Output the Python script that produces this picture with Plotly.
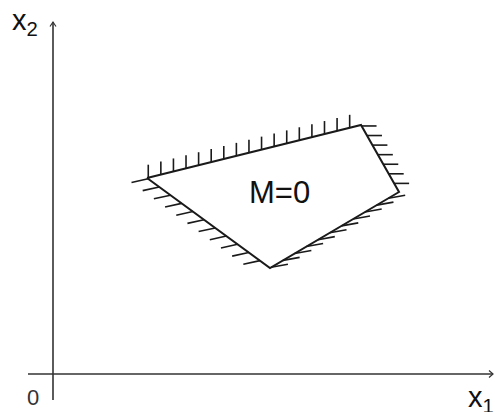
import numpy as np
import plotly.graph_objects as go

# Vertices of the feasible polygon (x1, x2), listed clockwise from the left corner
vertex_x1 = [1.88, 6.16, 6.92, 4.34]
vertex_x2 = [3.92, 4.98, 3.64, 2.12]

# Hatch settings per edge: (start vertex, end vertex, number of hatches, direction, length)
edges = [
    (0, 1, 17, (0.0, 1.0), 0.26),     # top edge, hatches point up
    (1, 2, 7, (1.0, 0.0), 0.30),      # right edge, hatches point right
    (3, 2, 11, (1.0, 0.18), 0.34),    # lower-right edge, hatches point right
    (0, 3, 11, (-1.0, -0.22), 0.34),  # lower-left edge, hatches point left
]

region_label = "M=0"
axis_labels = ["x<sub>1</sub>", "x<sub>2</sub>"]
origin_label = "0"

ink = "#1a1a1a"
axis_ink = "#333333"

fig = go.Figure()

# Axes through the origin
fig.add_trace(go.Scatter(x=[-0.5, 8.8], y=[0, 0], mode="lines",
                         line=dict(color=axis_ink, width=1.6), hoverinfo="skip"))
fig.add_trace(go.Scatter(x=[0, 0], y=[-0.52, 7.04], mode="lines",
                         line=dict(color=axis_ink, width=1.6), hoverinfo="skip"))

# Small open arrowheads at the axis ends
fig.add_trace(go.Scatter(x=[8.72, 8.8, 8.72], y=[0.07, 0, -0.07], mode="lines",
                         line=dict(color=axis_ink, width=1.2), hoverinfo="skip"))
fig.add_trace(go.Scatter(x=[-0.06, 0, 0.06], y=[6.95, 7.04, 6.95], mode="lines",
                         line=dict(color=axis_ink, width=1.2), hoverinfo="skip"))

# Polygon boundary
fig.add_trace(go.Scatter(x=vertex_x1 + [vertex_x1[0]], y=vertex_x2 + [vertex_x2[0]],
                         mode="lines", line=dict(color=ink, width=2), hoverinfo="skip"))

# Hatching along each constraint edge
hx, hy = [], []
for i, j, n, (dx, dy), length in edges:
    norm = np.hypot(dx, dy)
    ux, uy = dx / norm * length, dy / norm * length
    for t in np.linspace(0, 1, n, endpoint=False) + 0.5 / n * 0.2:
        px = vertex_x1[i] + t * (vertex_x1[j] - vertex_x1[i])
        py = vertex_x2[i] + t * (vertex_x2[j] - vertex_x2[i])
        hx += [px, px + ux, None]
        hy += [py, py + uy, None]
fig.add_trace(go.Scatter(x=hx, y=hy, mode="lines",
                         line=dict(color=ink, width=1.6), hoverinfo="skip"))

font = "Liberation Sans, Arial, sans-serif"
fig.add_annotation(x=4.53, y=3.64, text=region_label, showarrow=False,
                   font=dict(family=font, size=31, color="#111111"))
fig.add_annotation(x=-0.86, y=7.04, text=axis_labels[1], showarrow=False,
                   xanchor="left", font=dict(family=font, size=29, color="#111111"))
fig.add_annotation(x=8.26, y=-0.5, text=axis_labels[0], showarrow=False,
                   xanchor="left", font=dict(family=font, size=29, color="#111111"))
fig.add_annotation(x=-0.4, y=-0.46, text=origin_label, showarrow=False,
                   font=dict(family=font, size=22, color="#333333"))

fig.update_layout(
    width=495, height=412, autosize=False,
    margin=dict(l=0, r=0, t=0, b=0, pad=0),
    paper_bgcolor="white", plot_bgcolor="white",
    showlegend=False,
    xaxis=dict(range=[-1.06, 8.84], visible=False, fixedrange=True),
    yaxis=dict(range=[-0.76, 7.48], visible=False, fixedrange=True),
)

fig.write_html("out.html")
